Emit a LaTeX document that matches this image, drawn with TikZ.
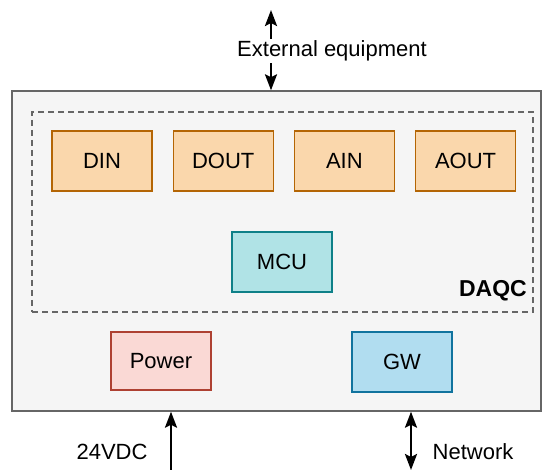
\documentclass[tikz,border=0pt]{standalone}
\usepackage{fontspec}
\setmainfont{Liberation Sans}
\usetikzlibrary{positioning, arrows.meta}

\definecolor{outerfill}{HTML}{F5F5F5}
\definecolor{outerline}{HTML}{666666}
\definecolor{ioFill}{HTML}{FAD7AC}
\definecolor{ioLine}{HTML}{B46504}
\definecolor{mcuFill}{HTML}{B0E3E6}
\definecolor{mcuLine}{HTML}{0E8088}
\definecolor{pwrFill}{HTML}{FAD9D5}
\definecolor{pwrLine}{HTML}{AE4132}
\definecolor{gwFill}{HTML}{B1DDF0}
\definecolor{gwLine}{HTML}{10739E}

\begin{document}
\begin{tikzpicture}[x=1pt, y=-1pt, node distance = 20pt,
    font=\fontsize{22}{25}\selectfont, >={Stealth[length=16pt, width=12pt, inset=3pt]}]
        \tikzset{block/.style={draw, line width=1.2pt, minimum width=100pt, minimum height=60pt, inner sep=0pt}}
        \tikzset{io/.style={block, fill=ioFill, draw=ioLine}}
        \tikzset{link/.style={line width=2.5pt, black}}
        \useasboundingbox (0,0) rectangle (542,470);

        % enclosure and DAQC group
        \node[draw=outerline, fill=outerfill, line width=1.4pt, minimum width=529pt, minimum height=320pt, inner sep=0pt] (box) at (276.5,251) {};
        \node[draw=gray!80!black, dash pattern=on 6pt off 4pt, line width=1.3pt, minimum width=501pt, minimum height=200pt, inner sep=0pt] (daqc) at (282.5,212) {};
        \node[anchor=south east, font=\fontsize{23}{26}\selectfont\bfseries, inner sep=0pt] (daqclabel) at (527,301) {DAQC};

        % I/O modules
        \node[io] (din) at (102,161) {DIN};
        \node[io] (dout) [right = of din] {DOUT};
        \node[io] (ain) [right = of dout] {AIN};
        \node[io] (aout) [right = of ain] {AOUT};

        \node[block, fill=mcuFill, draw=mcuLine] (mcu) at (282,262) {MCU};

        \node[block, fill=pwrFill, draw=pwrLine, minimum height=58pt] (power) at (161,361) {Power};
        \node[block, fill=gwFill, draw=gwLine] (gw) at (402,362) {GW};

        % external connections
        \coordinate (ext) at (271,10);
        \coordinate (supply) at (171,470);
        \coordinate (net) at (411,470);

        \draw[link, <->] (ext) -- (ext |- box.north)
            node[pos=0.51, fill=white, inner sep=2pt, xshift=61pt] (extlabel) {External equipment};
        \draw[link, ->] (supply) -- (supply |- box.south);
        \draw[link, <->] (net) -- (net |- box.south);

        \node (supplylabel) at (112,452) {24VDC};
        \node (netlabel) at (473,452) {Network};
    \end{tikzpicture}
\end{document}
